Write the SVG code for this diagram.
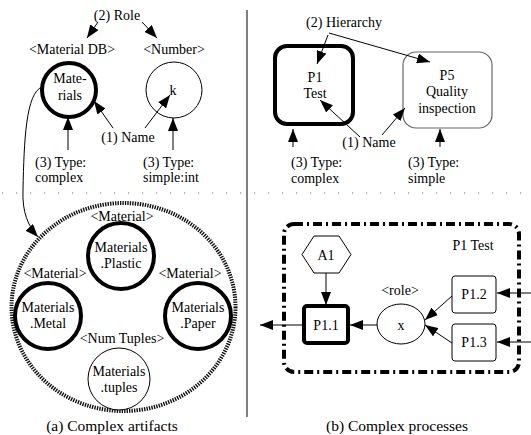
<svg xmlns="http://www.w3.org/2000/svg" width="531" height="435" viewBox="0 0 531 435">
<style>
text{font-family:"Liberation Serif","Times New Roman",serif;font-size:14px;fill:#000;text-anchor:middle}
.l{text-anchor:start}
.cap{font-size:15.5px}
.thin{fill:#fff;stroke:#000;stroke-width:1}
.thick{fill:#fff;stroke:#000;stroke-width:4}
.c{fill:none;stroke:#000;stroke-width:1}
</style>
<defs>
<marker id="ah" markerUnits="userSpaceOnUse" markerWidth="13" markerHeight="10" viewBox="0 0 13 10" refX="13" refY="5" orient="auto">
<path d="M0,0 L13,5 L0,10 Z" fill="#000"/>
</marker>
</defs>
<rect width="531" height="435" fill="#fff"/>
<!-- separators -->
<line x1="247" y1="10" x2="247" y2="417" stroke="#555" stroke-width="1.5"/>
<line x1="2" y1="193" x2="531" y2="193" stroke="#777" stroke-width="1.2" stroke-dasharray="1.2 12.8"/>

<!-- (a) top -->
<g id="role-label"><text x="117" y="20">(2) Role</text></g>
<g id="materialdb-label"><text x="72" y="54">&lt;Material DB&gt;</text></g>
<g id="number-label"><text x="174" y="54">&lt;Number&gt;</text></g>
<g id="materials"><circle cx="69" cy="90" r="27" class="thick"/><text x="70" y="83">Mate-</text><text x="70" y="100">rials</text></g>
<g id="k"><circle cx="174" cy="90" r="28" class="thin"/><text x="173" y="95">k</text></g>
<g id="name-a"><text x="128" y="142">(1) Name</text></g>
<g id="type-complex-a"><text class="l" x="35" y="167">(3) Type:</text><text class="l" x="35" y="182">complex</text></g>
<g id="type-simple-a"><text class="l" x="143" y="167">(3) Type:</text><text class="l" x="143" y="182">simple:int</text></g>

<!-- (b) top -->
<g id="hierarchy-label"><text x="344" y="27">(2) Hierarchy</text></g>
<g id="p1"><rect x="275" y="46" width="78" height="78" rx="12" class="thick"/><text x="315" y="82">P1</text><text x="315" y="98">Test</text></g>
<g id="p5"><rect x="403" y="52" width="89" height="76" rx="13" fill="#fff" stroke="#666" stroke-width="1.2"/><text x="447" y="80">P5</text><text x="447" y="96">Quality</text><text x="447" y="113">inspection</text></g>
<g id="name-b"><text x="369" y="147">(1) Name</text></g>
<g id="type-complex-b"><text class="l" x="291" y="167">(3) Type:</text><text class="l" x="291" y="183">complex</text></g>
<g id="type-simple-b"><text class="l" x="408" y="167">(3) Type:</text><text class="l" x="408" y="183">simple</text></g>

<!-- (a) bottom -->
<g id="complex-artifact"><ellipse cx="123.5" cy="307" rx="112" ry="104" fill="none" stroke="#111" stroke-width="4" stroke-dasharray="1.4 1.1"/></g>
<g id="plastic"><text x="122" y="221">&lt;Material&gt;</text><circle cx="121" cy="256" r="33" class="thick"/><text x="121" y="252">Materials</text><text x="121" y="268">.Plastic</text></g>
<g id="metal"><text x="55" y="278">&lt;Material&gt;</text><circle cx="48" cy="316" r="33" class="thick"/><text x="48" y="312">Materials</text><text x="48" y="328">.Metal</text></g>
<g id="paper"><text x="190" y="278">&lt;Material&gt;</text><circle cx="198" cy="316" r="33" class="thick"/><text x="198" y="312">Materials</text><text x="198" y="328">.Paper</text></g>
<g id="tuples"><text x="122" y="343">&lt;Num Tuples&gt;</text><circle cx="119" cy="379" r="31" class="thin"/><text x="119" y="376">Materials</text><text x="119" y="392">.tuples</text></g>
<g id="caption-a"><text class="cap" x="112" y="431">(a) Complex artifacts</text></g>

<!-- (b) bottom -->
<g id="p1-test"><rect x="284" y="224" width="235" height="148" rx="10" fill="none" stroke="#000" stroke-width="4" stroke-dasharray="9 4 2 4"/><text x="473" y="250">P1 Test</text></g>
<g id="a1"><polygon points="302,254.5 314,236 339,236 351,254.5 339,273 314,273" class="thin"/><text x="326" y="260">A1</text></g>
<g id="p11"><rect x="304" y="306" width="44" height="37" rx="3" class="thick"/><text x="326" y="330">P1.1</text></g>
<g id="x"><text x="400" y="295">&lt;role&gt;</text><ellipse cx="401" cy="324" rx="24" ry="20" class="thin"/><text x="401" y="330">x</text></g>
<g id="p12"><rect x="452" y="276" width="44" height="37" rx="3" class="thin"/><text x="474" y="299">P1.2</text></g>
<g id="p13"><rect x="452" y="324" width="44" height="37" rx="3" class="thin"/><text x="474" y="347">P1.3</text></g>
<g id="caption-b"><text class="cap" x="397" y="431">(b) Complex processes</text></g>

<!-- connectors -->
<g id="connectors" class="c" fill="none" stroke="#000">
<line x1="98" y1="22" x2="87" y2="38" marker-end="url(#ah)"/>
<line x1="142" y1="22" x2="157" y2="38" marker-end="url(#ah)"/>
<line x1="113" y1="128" x2="94" y2="101" marker-end="url(#ah)"/>
<line x1="145" y1="128" x2="170" y2="95" marker-end="url(#ah)"/>
<line x1="68" y1="150" x2="68" y2="117" marker-end="url(#ah)"/>
<line x1="173" y1="150" x2="173" y2="118" marker-end="url(#ah)"/>
<path d="M42,87 C26,93 24,140 23,190 C22,212 28,226 38,237" marker-end="url(#ah)"/>
<line x1="328" y1="35" x2="317" y2="64" marker-end="url(#ah)"/>
<line x1="329" y1="33" x2="430" y2="62" marker-end="url(#ah)"/>
<line x1="360" y1="137" x2="320" y2="100" marker-end="url(#ah)"/>
<line x1="382" y1="135" x2="405" y2="108" marker-end="url(#ah)"/>
<line x1="293" y1="147" x2="293" y2="129" marker-end="url(#ah)"/>
<line x1="440" y1="147" x2="440" y2="129" marker-end="url(#ah)"/>
<line x1="326" y1="273" x2="326" y2="305" marker-end="url(#ah)"/>
<line x1="304" y1="325" x2="260" y2="325" marker-end="url(#ah)"/>
<line x1="377" y1="325" x2="350" y2="325" marker-end="url(#ah)"/>
<line x1="452" y1="296" x2="425" y2="320" marker-end="url(#ah)"/>
<line x1="452" y1="343" x2="425" y2="325" marker-end="url(#ah)"/>
<line x1="531" y1="293" x2="497" y2="293" marker-end="url(#ah)"/>
<line x1="531" y1="342" x2="497" y2="342" marker-end="url(#ah)"/>
</g>
</svg>
